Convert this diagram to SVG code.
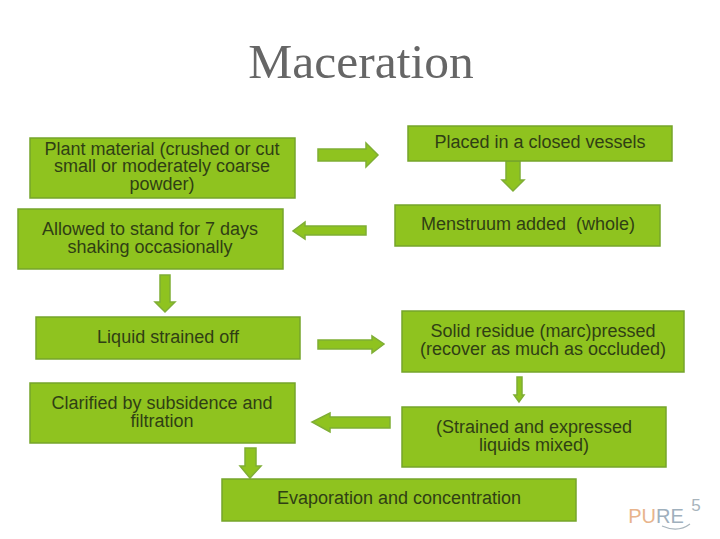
<svg xmlns="http://www.w3.org/2000/svg" width="720" height="539" viewBox="0 0 720 539">
<style>
.b{fill:#8fc31f;stroke:#76a52b;stroke-width:1.5}
.a{fill:#8fc31f;stroke:#7fae35;stroke-width:1.5}
text{font-family:"Liberation Sans",Arial,sans-serif;font-size:18px;fill:#2f3f14;text-anchor:middle}
</style>
<rect width="720" height="539" fill="#ffffff"/>
<text id="title" x="361" y="78" style="font-family:'Liberation Serif',serif;font-size:49.5px;fill:#666666">Maceration</text>
<g id="connectors">
<path class="a" d="M318 149H366V143L378 155L366 167V161H318Z"/>
<path class="a" d="M506 161H520V180H524L513 191L502 180H506Z"/>
<path class="a" d="M366 226V235H305V239L293 231L305 222V226Z"/>
<path class="a" d="M160 275H170V302H175L165 312L155 302H160Z"/>
<path class="a" d="M318 340H372V336L384 344L372 353V349H318Z"/>
<path class="a" d="M517 377H522V395H524L519 402L514 395H517Z"/>
<path class="a" d="M390 417V428H330V432L312 422L330 413V417Z"/>
<path class="a" d="M245 448H256V466H261L250 478L240 466H245Z"/>
</g>
<g id="n1"><rect class="b" x="30" y="138" width="265" height="60"/><text x="162" y="155">Plant material (crushed or cut</text><text x="162" y="172">small or moderately coarse</text><text x="162" y="190">powder)</text></g>
<g id="n2"><rect class="b" x="408" y="126" width="264" height="35"/><text x="540" y="148">Placed in a closed vessels</text></g>
<g id="n3"><rect class="b" x="395" y="205" width="265" height="41"/><text x="528" y="230">Menstruum added &#160;(whole)</text></g>
<g id="n4"><rect class="b" x="18" y="209" width="265" height="60"/><text x="150" y="235">Allowed to stand for 7 days</text><text x="150" y="253">shaking occasionally</text></g>
<g id="n5"><rect class="b" x="36" y="317" width="264" height="42"/><text x="168" y="343">Liquid strained off</text></g>
<g id="n6"><rect class="b" x="402" y="311" width="282" height="61"/><text x="543" y="337">Solid residue (marc)pressed</text><text x="543" y="355">(recover as much as occluded)</text></g>
<g id="n7"><rect class="b" x="402" y="407" width="264" height="60"/><text x="534" y="433">(Strained and expressed</text><text x="534" y="451">liquids mixed)</text></g>
<g id="n8"><rect class="b" x="30" y="383" width="265" height="60"/><text x="162" y="409">Clarified by subsidence and</text><text x="162" y="427">filtration</text></g>
<g id="n9"><rect class="b" x="222" y="479" width="354" height="42"/><text x="399" y="504">Evaporation and concentration</text></g>
<g id="logo"><text x="656" y="523" style="font-size:20px;fill:#e8b48c">PU<tspan fill="#9fb0bd">RE</tspan></text><text x="696" y="511" style="font-size:17px;fill:#a8b4bc">5</text><path d="M662 526Q678 533 690 524" fill="none" stroke="#a8b4bc" stroke-width="1.2"/></g>
</svg>
